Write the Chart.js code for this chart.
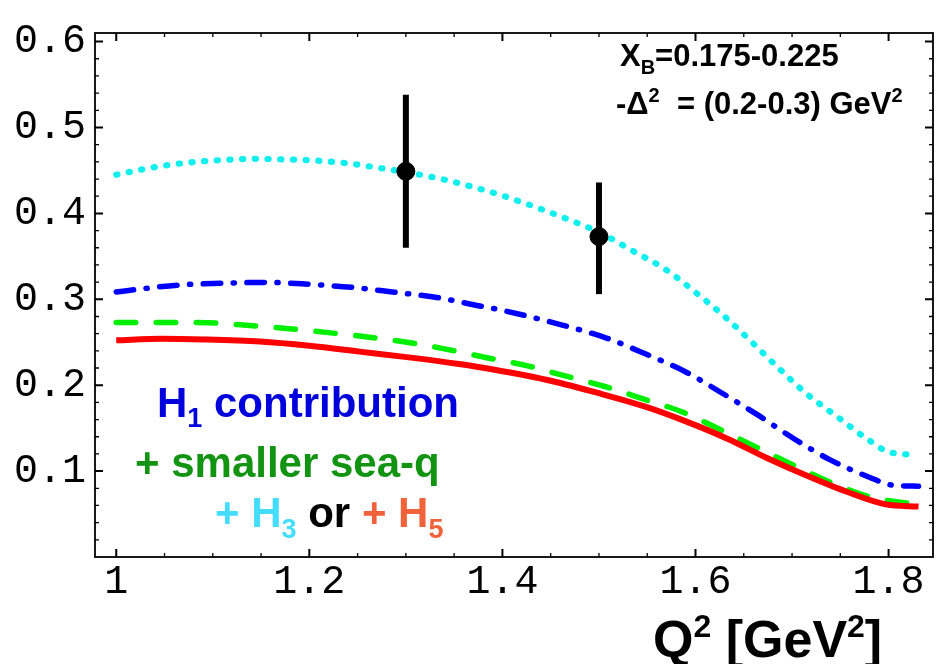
<!DOCTYPE html>
<html>
<head>
<meta charset="utf-8">
<script src="https://cdn.jsdelivr.net/npm/chart.js@4.4.1/dist/chart.umd.min.js"></script>
<style>
  html, body { margin: 0; padding: 0; background: #fff; }
  #chart { display: block; }
</style>
</head>
<body>
<canvas id="chart" width="943" height="664"></canvas>
<script>
// H3 を加えた場合 (水色・点線)
let cyanQ   = [1.0, 1.026, 1.052, 1.078, 1.115, 1.143, 1.17, 1.207, 1.245, 1.272, 1.3, 1.337, 1.375, 1.402, 1.476, 1.503, 1.534, 1.568, 1.599, 1.63, 1.659, 1.686, 1.715, 1.746, 1.777, 1.801, 1.83];
let cyanVal = [0.445, 0.451, 0.456, 0.4595, 0.4625, 0.4635, 0.463, 0.4615, 0.4575, 0.453, 0.448, 0.44, 0.429, 0.42, 0.3895, 0.3765, 0.357, 0.3355, 0.309, 0.28, 0.2495, 0.22, 0.19, 0.164, 0.138, 0.122, 0.119];

// H1 のみ (青・一点鎖線)
let blueQ   = [1.0, 1.033, 1.067, 1.108, 1.156, 1.2, 1.245, 1.286, 1.334, 1.375, 1.401, 1.462, 1.507, 1.548, 1.589, 1.626, 1.664, 1.702, 1.739, 1.78, 1.804, 1.831];
let blueVal = [0.3085, 0.313, 0.3168, 0.3186, 0.3197, 0.3175, 0.3138, 0.3085, 0.3018, 0.2925, 0.2869, 0.27, 0.2552, 0.2365, 0.216, 0.1918, 0.1657, 0.1377, 0.1134, 0.0929, 0.0836, 0.0825];

// 海クォーク小 (緑・破線)
let greenQ   = [1.0, 1.053, 1.094, 1.135, 1.176, 1.217, 1.262, 1.303, 1.344, 1.385, 1.425, 1.466, 1.507, 1.548, 1.585, 1.626, 1.664, 1.702, 1.739, 1.777, 1.818, 1.831];
let greenVal = [0.273, 0.273, 0.2727, 0.2698, 0.266, 0.2615, 0.2559, 0.2496, 0.2414, 0.2317, 0.2228, 0.2105, 0.1982, 0.1832, 0.1694, 0.1481, 0.1272, 0.1067, 0.0873, 0.0712, 0.063, 0.0625];

// H5 を加えた場合 (赤・実線)
let redQ   = [1.0, 1.047, 1.091, 1.149, 1.2, 1.252, 1.303, 1.355, 1.389, 1.451, 1.502, 1.548, 1.592, 1.633, 1.674, 1.715, 1.756, 1.797, 1.831];
let redVal = [0.2522, 0.2541, 0.2533, 0.2508, 0.2458, 0.2391, 0.2324, 0.2246, 0.2185, 0.2049, 0.19, 0.175, 0.157, 0.1377, 0.1153, 0.0948, 0.0762, 0.0613, 0.0587];

// 測定点と誤差棒
let pointQ    = [1.3, 1.5];
let pointVal  = [0.449, 0.373];
let pointLow  = [0.36, 0.306];
let pointHigh = [0.538, 0.436];

// 目盛り
let xTickValues = [1, 1.2, 1.4, 1.6, 1.8];
let yTickValues = [0.1, 0.2, 0.3, 0.4, 0.5, 0.6];

// 文字フォント
const SANS = '"Liberation Sans", Arial, sans-serif';
const MONO = '"Liberation Mono", "Courier New", monospace';

/*
  x,y 配列を点リストに変換
*/
function toPoints(qList, valList) {
  return qList.map((q, i) => ({ x: q, y: valList[i] }));
}

/*
  枠と内向きの目盛り
*/
const framePlugin = {
  id: 'frame',
  afterDatasetsDraw(chart) {
    let ctx = chart.ctx;
    let area = chart.chartArea;
    let xs = chart.scales.x;
    let ys = chart.scales.y;
    ctx.save();
    ctx.strokeStyle = '#000';
    ctx.lineWidth = 1.8;
    ctx.strokeRect(area.left, area.top, area.right - area.left, area.bottom - area.top);

    // 横軸 (0.05 刻み、0.2 ごとに長く)
    for (let i = 0; i <= 16; i++) {
      let v = 1 + i * 0.05;
      let px = xs.getPixelForValue(v);
      let major = (i % 4 == 0);
      let len = major ? 8 : 4;
      ctx.lineWidth = major ? 2 : 1.3;
      ctx.beginPath();
      ctx.moveTo(px, area.bottom);
      ctx.lineTo(px, area.bottom - len);
      ctx.moveTo(px, area.top);
      ctx.lineTo(px, area.top + len);
      ctx.stroke();
    }

    // 縦軸 (0.02 刻み、0.1 ごとに長く)
    for (let i = 1; i <= 30; i++) {
      let v = i * 0.02;
      let py = ys.getPixelForValue(v);
      let major = (i % 5 == 0);
      let len = major ? 8 : 4;
      ctx.lineWidth = major ? 2 : 1.3;
      ctx.beginPath();
      ctx.moveTo(area.left, py);
      ctx.lineTo(area.left + len, py);
      ctx.moveTo(area.right, py);
      ctx.lineTo(area.right - len, py);
      ctx.stroke();
    }
    ctx.restore();
  }
};

/*
  誤差棒
*/
const errorBarPlugin = {
  id: 'errorBars',
  beforeDatasetsDraw(chart) {
    let ctx = chart.ctx;
    let xs = chart.scales.x;
    let ys = chart.scales.y;
    ctx.save();
    ctx.strokeStyle = '#000';
    ctx.lineWidth = 6;
    ctx.lineCap = 'butt';
    pointQ.forEach((q, i) => {
      let px = xs.getPixelForValue(q);
      ctx.beginPath();
      ctx.moveTo(px, ys.getPixelForValue(pointLow[i]));
      ctx.lineTo(px, ys.getPixelForValue(pointHigh[i]));
      ctx.stroke();
    });
    ctx.restore();
  }
};

/*
  添字付きの文字列を順に描く
*/
function drawRuns(ctx, x, y, runs) {
  runs.forEach(r => {
    ctx.font = 'bold ' + r.size + 'px ' + SANS;
    ctx.fillStyle = r.color || '#000';
    ctx.fillText(r.text, x, y + (r.dy || 0));
    x += ctx.measureText(r.text).width;
  });
}

/*
  注釈と軸タイトル
*/
const textPlugin = {
  id: 'labels',
  afterDraw(chart) {
    let ctx = chart.ctx;
    ctx.save();
    ctx.textAlign = 'left';
    ctx.textBaseline = 'alphabetic';

    // 運動学の範囲
    drawRuns(ctx, 620, 66, [
      { text: 'X', size: 31 },
      { text: 'B', size: 20, dy: 8 },
      { text: '=0.175-0.225', size: 31 }
    ]);
    drawRuns(ctx, 616, 114, [
      { text: '-\u0394', size: 31 },
      { text: '2', size: 20, dy: -12 },
      { text: '  = (0.2-0.3) GeV', size: 31 },
      { text: '2', size: 20, dy: -12 }
    ]);

    // 凡例の文
    const blue = '#0000dd';
    const green = '#129412';
    const cyan = '#44ddff';
    const orange = '#f0623a';
    drawRuns(ctx, 157, 417, [
      { text: 'H', size: 42, color: blue },
      { text: '1', size: 27, dy: 10, color: blue },
      { text: ' contribution', size: 42, color: blue }
    ]);
    drawRuns(ctx, 135, 477, [
      { text: '+ smaller sea-q', size: 42, color: green }
    ]);
    drawRuns(ctx, 215, 527, [
      { text: '+ H', size: 42, color: cyan },
      { text: '3', size: 27, dy: 11, color: cyan },
      { text: ' or ', size: 42, color: '#000' },
      { text: '+ H', size: 42, color: orange },
      { text: '5', size: 27, dy: 11, color: orange }
    ]);

    // 横軸タイトル
    drawRuns(ctx, 653, 657, [
      { text: 'Q', size: 52 },
      { text: '2', size: 32, dy: -20 },
      { text: ' [GeV', size: 52 },
      { text: '2', size: 32, dy: -20 },
      { text: ']', size: 52 }
    ]);
    ctx.restore();
  }
};

// 曲線の共通設定
function curve(qList, valList, color, width, dash) {
  return {
    data: toPoints(qList, valList),
    showLine: true,
    borderColor: color,
    backgroundColor: color,
    borderWidth: width,
    borderDash: dash,
    borderCapStyle: dash.length ? 'round' : 'butt',
    pointRadius: 0,
    cubicInterpolationMode: 'monotone'
  };
}

let chart = new Chart(document.getElementById('chart'), {
  type: 'scatter',
  data: {
    datasets: [
      {
        data: toPoints(pointQ, pointVal),
        pointRadius: 9,
        pointBackgroundColor: '#000',
        pointBorderColor: '#000',
        showLine: false
      },
      curve(redQ, redVal, '#ff0000', 6, []),
      curve(greenQ, greenVal, '#00ee00', 5.5, [19.5, 20.5]),
      curve(blueQ, blueVal, '#0000ff', 5.5, [17.5, 12.5, 1.2, 12.5]),
      curve(cyanQ, cyanVal, '#11eeee', 6.2, [1.2, 11.5])
    ]
  },
  options: {
    responsive: false,
    animation: false,
    devicePixelRatio: 1,
    layout: { padding: { top: 12, right: 2, left: 0, bottom: 0 } },
    plugins: {
      legend: { display: false },
      tooltip: { enabled: false }
    },
    scales: {
      x: {
        type: 'linear',
        min: 0.978,
        max: 1.846,
        grid: { display: false, drawTicks: false },
        border: { display: false },
        afterBuildTicks: s => { s.ticks = xTickValues.map(v => ({ value: v })); },
        afterFit: s => { s.height = 107; },
        ticks: {
          color: '#000',
          font: { family: MONO, size: 40 },
          padding: 1,
          maxRotation: 0,
          autoSkip: false,
          callback: v => (v == 1 ? '1' : v.toFixed(1))
        }
      },
      y: {
        type: 'linear',
        min: 0,
        max: 0.61,
        grid: { display: false, drawTicks: false },
        border: { display: false },
        afterBuildTicks: s => { s.ticks = yTickValues.map(v => ({ value: v })); },
        afterFit: s => { s.width = 95; },
        ticks: {
          color: '#000',
          font: { family: MONO, size: 40 },
          padding: 9,
          autoSkip: false,
          callback: v => v.toFixed(1)
        }
      }
    }
  },
  plugins: [errorBarPlugin, framePlugin, textPlugin]
});
</script>
</body>
</html>
